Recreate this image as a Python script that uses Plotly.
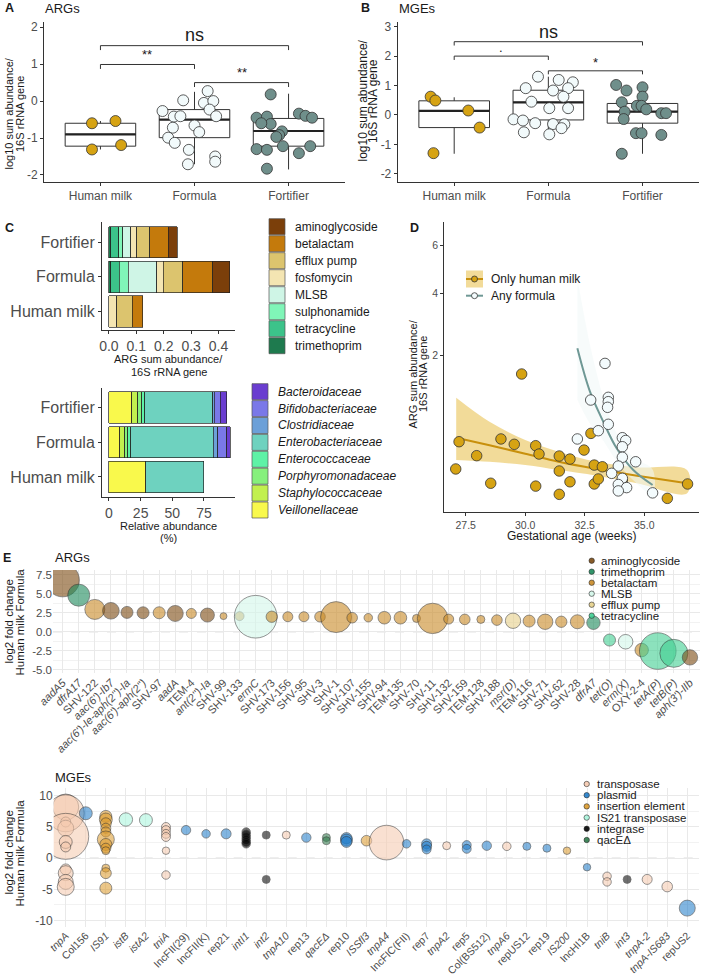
import numpy as np
import plotly.graph_objects as go

W, H = 701, 977
FONT = "Liberation Sans, Arial, Helvetica, sans-serif"
GREY = "#4d4d4d"
DARK = "#333333"
INK = "#1a1a1a"

# ======================= DATA =======================
groups = ["Human milk", "Formula", "Fortifier"]
group_pos = [1, 2, 3]

# ---- Panel A: ARGs, log10 sum abundance / 16S rRNA gene ----
a_hm = [-0.60, -0.54, -1.31, -1.19]
a_hm_jit = [-0.09, 0.16, -0.09, 0.22]
a_fo = [0.02, 0.27, -0.05, 0.00, -0.23, -0.41, -0.27, -0.42, -0.41, -0.72, -0.66, -0.84, -0.99, -1.13, -1.32, -1.50, -1.64, -1.71]
a_fo_jit = [-0.12, 0.14, 0.10, 0.20, 0.16, 0.23, -0.34, -0.22, -0.15, -0.23, 0.00, 0.05, -0.28, -0.21, -0.06, 0.22, 0.22, -0.07]
a_ft = [0.18, -0.34, -0.40, -0.45, -0.45, -0.42, -0.62, -0.60, -0.82, -0.92, -0.97, -1.30, -1.32, -1.22, -1.22, -1.41, -1.83]
a_ft_jit = [-0.19, 0.11, 0.18, 0.25, -0.34, -0.23, -0.19, -0.29, -0.07, -0.10, -0.13, -0.34, -0.23, -0.06, 0.23, 0.11, -0.23]
a_q1 = [-1.22, -0.99, -1.22]
a_med = [-0.90, -0.50, -0.81]
a_q3 = [-0.60, -0.23, -0.47]
a_lo = [-1.31, -1.71, -1.85]
a_hi = [-0.54, 0.25, 0.20]

# ---- Panel B: MGEs, log10 sum abundance / 16S rRNA gene ----
b_hm = [0.62, 0.49, 0.15, -0.43, -1.30]
b_hm_jit = [-0.25, -0.20, 0.15, 0.27, -0.22]
b_fo = [1.30, 1.19, 1.11, 0.91, 0.91, 0.83, 0.62, 0.45, 0.23, 0.23, -0.15, -0.19, -0.28, -0.31, -0.32, -0.45, -0.59, -0.66]
b_fo_jit = [-0.11, 0.11, 0.26, 0.21, -0.24, 0.05, 0.16, -0.18, 0.01, 0.21, -0.37, -0.27, -0.14, 0.05, 0.17, 0.14, -0.26, 0.01]
b_ft = [1.02, 0.83, 0.94, 0.62, 0.43, 0.31, 0.31, 0.19, 0.11, 0.06, 0.06, -0.14, -0.62, -0.62, -0.68, -1.32]
b_ft_jit = [-0.28, -0.17, 0.00, 0.00, -0.22, -0.06, -0.01, 0.04, -0.19, 0.20, 0.25, -0.20, -0.07, -0.01, 0.20, -0.22]
b_q1 = [-0.43, -0.17, -0.28]
b_med = [0.14, 0.43, 0.11]
b_q3 = [0.48, 0.84, 0.39]
b_lo = [-1.32, -0.62, -1.32]
b_hi = [0.60, 1.30, 1.02]

# ---- Panel C (top): ARG class sum abundance per group [Human milk, Formula, Fortifier] ----
arg_classes = ["aminoglycoside", "betalactam", "efflux pump", "fosfomycin",
               "MLSB", "sulphonamide", "tetracycline", "trimethoprim"]
c_aminoglycoside = [0.0, 0.063, 0.033]
c_betalactam = [0.038, 0.109, 0.067]
c_efflux = [0.057, 0.070, 0.049]
c_fosfomycin = [0.028, 0.024, 0.021]
c_mlsb = [0.0, 0.104, 0.029]
c_sulphonamide = [0.0, 0.033, 0.015]
c_tetracycline = [0.0, 0.031, 0.029]
c_trimethoprim = [0.0, 0.007, 0.007]

# ---- Panel C (bottom): family relative abundance (%) ----
families = ["Bacteroidaceae", "Bifidobacteriaceae", "Clostridiaceae", "Enterobacteriaceae",
            "Enterococcaceae", "Porphyromonadaceae", "Staphylococcaceae", "Veillonellaceae"]
f_bacteroidaceae = [0.0, 2.9, 5.0]
f_bifidobacteriaceae = [0.0, 7.1, 4.7]
f_clostridiaceae = [0.0, 3.4, 1.3]
f_enterobacteriaceae = [46.0, 65.0, 53.4]
f_enterococcaceae = [0.0, 2.6, 2.6]
f_porphyromonadaceae = [0.0, 2.1, 3.2]
f_staphylococcaceae = [0.0, 3.9, 4.7]
f_veillonellaceae = [29.0, 8.7, 17.9]

# ---- Panel D: ARG sum abundance vs gestational age ----
d_hm_ga = [27.22, 27.08, 27.96, 28.55, 28.98, 29.54, 29.85, 30.44, 30.58, 30.44, 31.43, 31.43, 31.43,
           31.88, 31.88, 32.47, 32.76, 32.90, 33.24, 32.90, 33.07, 34.08, 35.97, 36.82]
d_hm_arg = [0.368, 0.123, 0.226, 0.047, 0.400, 0.339, 1.543, 0.324, 0.241, 0.036, 0.223, 0.110, 0.0127,
            0.197, 0.053, 0.279, 0.469, 0.150, 0.138, 0.044, 0.066, 0.061, 0.0056, 0.044]
d_fo_ga = [33.35, 32.75, 33.49, 33.49, 33.46, 33.49, 33.07, 32.19, 34.08, 34.22, 34.08, 34.08, 34.64,
           33.91, 33.63, 34.08, 33.91, 34.26, 33.91, 35.35]
d_fo_arg = [1.80, 0.996, 1.047, 0.965, 0.864, 0.593, 0.504, 0.400, 0.415, 0.382, 0.313, 0.212, 0.175,
            0.143, 0.096, 0.069, 0.042, 0.031, 0.021, 0.016]
d_hm_fit_ga = [27.1, 28.5, 30.0, 31.4, 33.0, 34.7, 36.8]
d_hm_fit = [0.415, 0.328, 0.244, 0.175, 0.123, 0.083, 0.047]
d_hm_fit_hi = [1.04, 0.63, 0.388, 0.263, 0.175, 0.134, 0.116]
d_hm_fit_lo = [0.19, 0.175, 0.150, 0.116, 0.083, 0.047, 0.015]
d_fo_fit_ga = [32.19, 32.72, 33.28, 33.84, 34.54, 35.35]
d_fo_fit = [2.20, 1.158, 0.631, 0.297, 0.116, 0.040]
d_fo_fit_hi = [4.6, 2.3, 1.05, 0.47, 0.21, 0.12]
d_fo_fit_lo = [1.0, 0.60, 0.38, 0.18, 0.06, 0.012]

# ---- Panel E (ARGs): log2 fold change Human milk vs Formula ----
arg_genes = ["aadA5", "dfrA17", "SHV-122", "aac(6')-Ib7", "aac(6')-Ie-aph(2'')-Ia", "aac(6')-aph(2'')",
             "SHV-97", "aadA", "TEM-4", "ant(2'')-Ia", "SHV-99", "SHV-133", "ermC", "SHV-173", "SHV-156",
             "SHV-95", "SHV-3", "SHV-1", "SHV-107", "SHV-155", "SHV-94", "TEM-135", "SHV-70", "SHV-11",
             "SHV-132", "SHV-159", "TEM-128", "SHV-188", "msr(D)", "TEM-116", "SHV-71", "SHV-62", "SHV-28",
             "dfrA7", "tet(O)", "erm(X)", "OXY-2-4", "tetA(P)", "tetB(P)", "aph(3')-IIb"]
arg_class = ["aminoglycoside", "trimethoprim", "betalactam", "aminoglycoside", "aminoglycoside",
             "aminoglycoside", "betalactam", "aminoglycoside", "betalactam", "aminoglycoside",
             "betalactam", "betalactam", "MLSB", "betalactam", "betalactam", "betalactam", "betalactam",
             "betalactam", "betalactam", "betalactam", "betalactam", "betalactam", "betalactam",
             "betalactam", "betalactam", "betalactam", "betalactam", "betalactam", "efflux pump",
             "betalactam", "betalactam", "betalactam", "betalactam", "trimethoprim", "tetracycline",
             "MLSB", "betalactam", "tetracycline", "tetracycline", "aminoglycoside"]
arg_lfc = [6.77, 4.80, 2.93, 2.75, 2.54, 2.49, 2.49, 2.40, 2.40, 2.19, 2.05, 2.05, 1.97, 1.97, 1.97,
           1.97, 1.97, 1.92, 1.84, 1.84, 1.84, 1.84, 1.75, 1.75, 1.66, 1.62, 1.62, 1.53, 1.44, 1.40,
           1.31, 1.31, 1.31, 1.18, -1.09, -1.31, -2.40, -2.53, -2.83, -3.36]
arg_abund = [279, 121, 100, 69, 36, 36, 36, 64, 25, 49, 12, 20, 454, 32, 25, 25, 28, 240, 28, 18,
             40, 40, 16, 231, 25, 28, 16, 28, 59, 36, 59, 32, 49, 45, 36, 53, 45, 335, 196, 59]
arg_italic = {"aadA5", "dfrA17", "aac(6')-Ib7", "aac(6')-Ie-aph(2'')-Ia", "aac(6')-aph(2'')", "aadA",
              "ant(2'')-Ia", "ermC", "msr(D)", "dfrA7", "tet(O)", "erm(X)", "tetA(P)", "tetB(P)",
              "aph(3')-IIb"}

# ---- Panel E (MGEs) ----
mge_genes = ["tnpA", "Col156", "IS91", "istB", "istA2", "tniA", "IncFII(29)", "IncFII(K)", "rep21",
             "intI1", "int2", "tnpA10", "rep13", "qacEΔ", "rep10", "ISSfl3", "tnpA4", "IncFIC(FII)",
             "rep7", "tnpA2", "rep5", "Col(BS512)", "tnpA6", "repUS12", "rep19", "IS200", "IncHI1B",
             "tniB", "int3", "tnpA-2", "tnpA-IS683", "repUS2"]
mge_italic = {"tnpA", "IS91", "istB", "istA2", "tniA", "intI1", "int2", "tnpA10", "qacEΔ", "ISSfl3",
              "tnpA4", "tnpA2", "tnpA6", "IS200", "tniB", "int3", "tnpA-2", "tnpA-IS683"}
mge_pt_gene = (["tnpA"] * 11 + ["Col156"] + ["IS91"] * 12 + ["istB", "istA2"] + ["tniA"] * 6 +
               ["IncFII(29)", "IncFII(K)", "rep21"] + ["intI1"] * 6 + ["int2"] * 2 + ["tnpA10", "rep13"] +
               ["qacEΔ"] * 2 + ["rep10"] * 3 + ["ISSfl3", "tnpA4", "IncFIC(FII)"] + ["rep7"] * 3 +
               ["tnpA2"] + ["rep5"] * 2 + ["Col(BS512)", "tnpA6", "repUS12", "rep19", "IS200", "IncHI1B"] +
               ["tniB"] * 2 + ["int3", "tnpA-2", "tnpA-IS683", "repUS2"])
mge_pt_type = (["transposase"] * 11 + ["plasmid"] + ["insertion element"] * 12 +
               ["IS21 transposase"] * 2 + ["transposase"] * 6 + ["plasmid"] * 3 + ["integrase"] * 8 +
               ["transposase", "plasmid"] + ["qacEΔ"] * 2 + ["plasmid"] * 3 +
               ["insertion element", "transposase", "plasmid"] + ["plasmid"] * 3 + ["transposase"] +
               ["plasmid"] * 3 + ["transposase", "plasmid", "plasmid", "insertion element", "plasmid"] +
               ["transposase"] * 2 + ["integrase", "transposase", "transposase", "plasmid"])
mge_pt_lfc = ([8.2, 7.2, 5.8, 4.8, 3.5, 2.6, 1.8, -1.8, -2.4, -3.8, -4.6] + [7.2] +
              [6.7, 6.2, 5.6, 4.8, 4.2, 3.0, 2.2, 1.6, 1.2, -1.6, -2.4, -4.8] + [6.2, 6.1] +
              [5.0, 4.5, 3.9, 3.4, 1.2, -2.7] + [4.5, 3.9, 3.9] + [4.2, 3.8, 3.4, 3.0, 2.6, 2.3] +
              [3.7, -3.4] + [3.7, 3.3] + [3.3, 2.8] + [3.2, 2.9, 2.6] + [2.8, 2.5, 2.3] +
              [2.3, 1.9, 1.4] + [2.0] + [2.1, 1.5] + [2.0, 1.9, 1.9, 1.6, 1.2, -1.45] +
              [-2.9, -3.8] + [-3.4, -3.4, -4.55, -8.0])
mge_pt_abund = ([169, 342, 25, 64, 529, 42, 25, 30, 56, 56, 72] + [42] +
                [36, 42, 30, 25, 25, 72, 36, 25, 16, 16, 30, 36] + [45, 42] +
                [20, 20, 20, 20, 14, 18] + [22, 18, 25] + [18, 18, 18, 18, 18, 18] +
                [16, 16] + [16, 22] + [16, 16] + [32, 36, 30] + [28, 300, 18] +
                [25, 25, 20] + [16] + [20, 20] + [22, 18, 16, 16, 14, 14] +
                [18, 18] + [16, 25, 28, 64])
mge_types = ["transposase", "plasmid", "insertion element", "IS21 transposase", "integrase", "qacEΔ"]

# ======================= STYLE =======================
group_colors = ["#d6a313", "#f2fafb", "#6f8f8b"]
c_arg_colors = {"aminoglycoside": "#7b3f0a", "betalactam": "#c47a0c", "efflux pump": "#dcc46e",
                "fosfomycin": "#f4e5b2", "MLSB": "#cff5e6", "sulphonamide": "#80f5b8",
                "tetracycline": "#3cc38a", "trimethoprim": "#1e7a4e"}
fam_colors = {"Bacteroidaceae": "#6a3dd0", "Bifidobacteriaceae": "#7a78e8", "Clostridiaceae": "#6ca0d8",
              "Enterobacteriaceae": "#6ed2bf", "Enterococcaceae": "#5ef2a6", "Porphyromonadaceae": "#86f07c",
              "Staphylococcaceae": "#c2f04e", "Veillonellaceae": "#f9f94c"}
e_arg_colors = {"aminoglycoside": (123, 74, 18), "trimethoprim": (27, 138, 90), "betalactam": (201, 138, 38),
                "MLSB": (211, 247, 234), "efflux pump": (230, 208, 138), "tetracycline": (63, 207, 146)}
e_arg_legend = ["aminoglycoside", "trimethoprim", "betalactam", "MLSB", "efflux pump", "tetracycline"]
mge_colors = {"transposase": (245, 201, 174), "plasmid": (31, 124, 201), "insertion element": (220, 154, 44),
              "IS21 transposase": (168, 245, 220), "integrase": (0, 0, 0), "qacEΔ": (46, 122, 74)}


def fx(x):
    return x / W


def fy(y):
    return 1 - y / H


def rgba(c, a):
    return "rgba(%d,%d,%d,%.2f)" % (c[0], c[1], c[2], a)


fig = go.Figure()
annotations = []
shapes = []


def txt(x, y, s, size, color=INK, xanchor="left", angle=0, yanchor="middle"):
    annotations.append(dict(x=fx(x), y=fy(y), xref="paper", yref="paper", text=s, showarrow=False,
                            xanchor=xanchor, yanchor=yanchor, textangle=angle,
                            font=dict(size=size, color=color, family=FONT)))


def dtxt(xa, ya, x, y, s, size):
    annotations.append(dict(x=x, y=y, xref=xa, yref=ya, text=s, showarrow=False, xanchor="center",
                            yanchor="middle", font=dict(size=size, color=INK, family=FONT)))


def bracket(xa, ya, x0, x1, y, drop):
    shapes.append(dict(type="path", path="M%g,%g L%g,%g L%g,%g L%g,%g" % (x0, y - drop, x0, y, x1, y, x1, y - drop),
                       xref=xa, yref=ya, line=dict(color=DARK, width=1)))


# ---------- A & B: boxplots ----------
def box_panel(xa, ya, q1, med, q3, lo, hi, pts, jits):
    fig.add_trace(go.Box(x=group_pos, q1=q1, median=med, q3=q3, lowerfence=lo, upperfence=hi,
                         orientation="v", width=0.75, fillcolor="white", line=dict(color=DARK, width=1),
                         boxpoints=False, whiskerwidth=0, hoverinfo="skip", showlegend=False,
                         xaxis=xa, yaxis=ya))
    for g, m in zip(group_pos, med):
        fig.add_trace(go.Scatter(x=[g - 0.375, g + 0.375], y=[m, m], mode="lines",
                                 line=dict(color="#222222", width=2.2), hoverinfo="skip",
                                 showlegend=False, xaxis=xa, yaxis=ya))
    for g, vals, jit, col in zip(group_pos, pts, jits, group_colors):
        fig.add_trace(go.Scatter(x=[g + j for j in jit], y=vals, mode="markers",
                                 marker=dict(size=11, color=col, line=dict(color=DARK, width=0.8)),
                                 hoverinfo="skip", showlegend=False, xaxis=xa, yaxis=ya))


box_panel("x", "y", a_q1, a_med, a_q3, a_lo, a_hi, [a_hm, a_fo, a_ft], [a_hm_jit, a_fo_jit, a_ft_jit])
box_panel("x2", "y2", b_q1, b_med, b_q3, b_lo, b_hi, [b_hm, b_fo, b_ft], [b_hm_jit, b_fo_jit, b_ft_jit])

bracket("x", "y", 1, 3, 1.50, 0.12)
bracket("x", "y", 1, 2, 0.99, 0.12)
bracket("x", "y", 2, 3, 0.50, 0.12)
dtxt("x", "y", 2, 1.78, "ns", 18)
dtxt("x", "y", 1.5, 1.25, "**", 13)
dtxt("x", "y", 2.5, 0.76, "**", 13)

bracket("x2", "y2", 1, 3, 2.49, 0.13)
bracket("x2", "y2", 1, 2, 2.00, 0.13)
bracket("x2", "y2", 2, 3, 1.50, 0.12)
dtxt("x2", "y2", 2, 2.83, "ns", 18)
dtxt("x2", "y2", 1.5, 2.30, ".", 13)
dtxt("x2", "y2", 2.5, 1.77, "*", 13)

# ---------- C: stacked bars ----------
c_arg = {"aminoglycoside": c_aminoglycoside, "betalactam": c_betalactam, "efflux pump": c_efflux,
         "fosfomycin": c_fosfomycin, "MLSB": c_mlsb, "sulphonamide": c_sulphonamide,
         "tetracycline": c_tetracycline, "trimethoprim": c_trimethoprim}
for cls in reversed(arg_classes):
    vals = [v if v > 0 else None for v in c_arg[cls]]
    fig.add_trace(go.Bar(y=[0, 1, 2], x=vals, orientation="h", width=0.9,
                         marker=dict(color=c_arg_colors[cls], line=dict(color="#222222", width=0.7)),
                         hoverinfo="skip", showlegend=False, xaxis="x3", yaxis="y3"))

c_fam = {"Bacteroidaceae": f_bacteroidaceae, "Bifidobacteriaceae": f_bifidobacteriaceae,
         "Clostridiaceae": f_clostridiaceae, "Enterobacteriaceae": f_enterobacteriaceae,
         "Enterococcaceae": f_enterococcaceae, "Porphyromonadaceae": f_porphyromonadaceae,
         "Staphylococcaceae": f_staphylococcaceae, "Veillonellaceae": f_veillonellaceae}
for fam in reversed(families):
    vals = [v if v > 0 else None for v in c_fam[fam]]
    fig.add_trace(go.Bar(y=[0, 1, 2], x=vals, orientation="h", width=0.9,
                         marker=dict(color=fam_colors[fam], line=dict(color="#222222", width=0.7)),
                         hoverinfo="skip", showlegend=False, xaxis="x4", yaxis="y4"))

# ---------- D: scatter with fits (sqrt y scale) ----------
sq = lambda v: list(np.sqrt(np.asarray(v, dtype=float)))
fig.add_trace(go.Scatter(x=d_hm_fit_ga + d_hm_fit_ga[::-1], y=sq(d_hm_fit_hi) + sq(d_hm_fit_lo)[::-1],
                         fill="toself", fillcolor="rgba(232,190,70,0.55)", line=dict(width=0, shape="spline"),
                         mode="lines", hoverinfo="skip", showlegend=False, xaxis="x5", yaxis="y5"))
fig.add_trace(go.Scatter(x=d_fo_fit_ga + d_fo_fit_ga[::-1], y=sq(d_fo_fit_hi) + sq(d_fo_fit_lo)[::-1],
                         fill="toself", fillcolor="rgba(240,248,248,0.55)", line=dict(width=0, shape="spline"),
                         mode="lines", hoverinfo="skip", showlegend=False, xaxis="x5", yaxis="y5"))
fig.add_trace(go.Scatter(x=d_hm_fit_ga, y=sq(d_hm_fit), mode="lines",
                         line=dict(color="#c8900c", width=2, shape="spline"),
                         hoverinfo="skip", showlegend=False, xaxis="x5", yaxis="y5"))
fig.add_trace(go.Scatter(x=d_fo_fit_ga, y=sq(d_fo_fit), mode="lines",
                         line=dict(color="#6f9895", width=2, shape="spline"),
                         hoverinfo="skip", showlegend=False, xaxis="x5", yaxis="y5"))
fig.add_trace(go.Scatter(x=d_hm_ga, y=sq(d_hm_arg), mode="markers",
                         marker=dict(size=10.5, color=group_colors[0], line=dict(color=DARK, width=0.8)),
                         hoverinfo="skip", showlegend=False, xaxis="x5", yaxis="y5"))
fig.add_trace(go.Scatter(x=d_fo_ga, y=sq(d_fo_arg), mode="markers",
                         marker=dict(size=10.5, color="#f3fbfd", line=dict(color=DARK, width=0.8)),
                         hoverinfo="skip", showlegend=False, xaxis="x5", yaxis="y5"))

# ---------- E: bubble plots ----------
fig.add_trace(go.Scatter(x=list(range(len(arg_genes))), y=arg_lfc, mode="markers",
                         marker=dict(size=arg_abund, sizemode="area", sizeref=0.5,
                                     color=[rgba(e_arg_colors[c], 0.85) for c in arg_class],
                                     line=dict(color="#2a2a2a", width=0.7)),
                         hoverinfo="skip", showlegend=False, xaxis="x6", yaxis="y6"))
fig.add_trace(go.Scatter(x=[mge_genes.index(g) for g in mge_pt_gene], y=mge_pt_lfc, mode="markers",
                         marker=dict(size=mge_pt_abund, sizemode="area", sizeref=0.5,
                                     color=[rgba(mge_colors[t], 0.8) for t in mge_pt_type],
                                     line=dict(color="#2a2a2a", width=0.7)),
                         hoverinfo="skip", showlegend=False, xaxis="x7", yaxis="y7"))

shapes.append(dict(type="line", xref="x6", yref="y6", x0=-0.6, x1=39.6, y0=0, y1=0, layer="below",
                   line=dict(color="#c8c8c8", width=1, dash="dash")))
shapes.append(dict(type="line", xref="x7", yref="y7", x0=-0.6, x1=31.6, y0=0, y1=0, layer="below",
                   line=dict(color="#c8c8c8", width=1, dash="dash")))

# ======================= LEGENDS (manual) =======================
for i, cls in enumerate(arg_classes):
    yc = 226.7 + i * 17
    shapes.append(dict(type="rect", xref="paper", yref="paper", x0=fx(269), x1=fx(285),
                       y0=fy(yc + 8), y1=fy(yc - 8), fillcolor=c_arg_colors[cls],
                       line=dict(color="#555555", width=0.7)))
    txt(292.5, yc, cls, 12)
for i, fam in enumerate(families):
    yc = 391.7 + i * 16.9
    shapes.append(dict(type="rect", xref="paper", yref="paper", x0=fx(252), x1=fx(268),
                       y0=fy(yc + 8), y1=fy(yc - 8), fillcolor=fam_colors[fam],
                       line=dict(color="#555555", width=0.7)))
    txt(275.5, yc, "<i>%s</i>" % fam, 12)

# D legend
shapes.append(dict(type="rect", xref="paper", yref="paper", x0=fx(466), x1=fx(483), y0=fy(287.5),
                   y1=fy(270.5), fillcolor="rgba(232,190,70,0.55)", line=dict(width=0)))
shapes.append(dict(type="line", xref="paper", yref="paper", x0=fx(466), x1=fx(483), y0=fy(279), y1=fy(279),
                   line=dict(color="#c8900c", width=2)))
shapes.append(dict(type="line", xref="paper", yref="paper", x0=fx(466), x1=fx(483), y0=fy(295.7),
                   y1=fy(295.7), line=dict(color="#6f9895", width=2)))
for yc, col in [(279, group_colors[0]), (295.7, "#f3fbfd")]:
    shapes.append(dict(type="circle", xref="paper", yref="paper", x0=fx(471.5), x1=fx(477.5),
                       y0=fy(yc + 3), y1=fy(yc - 3), fillcolor=col, line=dict(color=DARK, width=0.8)))
txt(488.5, 279, "Only human milk", 12)
txt(488.5, 295.7, "Any formula", 12)

# E legends
for i, cls in enumerate(e_arg_legend):
    yc = 560.7 + i * 11
    shapes.append(dict(type="circle", xref="paper", yref="paper", x0=fx(589), x1=fx(594.4),
                       y0=fy(yc + 2.7), y1=fy(yc - 2.7), fillcolor=rgba(e_arg_colors[cls], 0.9),
                       line=dict(color="#2a2a2a", width=0.6)))
    txt(598.5, yc, cls, 11.5)
for i, t in enumerate(mge_types):
    yc = 784 + i * 11.2
    shapes.append(dict(type="circle", xref="paper", yref="paper", x0=fx(584), x1=fx(589.4),
                       y0=fy(yc + 2.7), y1=fy(yc - 2.7), fillcolor=rgba(mge_colors[t], 0.9),
                       line=dict(color="#2a2a2a", width=0.6)))
    txt(594.5, yc, t, 11.5)

# ======================= TEXT =======================
for lab, x, y in [("A", 2.5, 8), ("B", 359, 8), ("C", 2.5, 228), ("D", 408, 228), ("E", 1, 557.5)]:
    txt(x, y, "<b>%s</b>" % lab, 12.5)
txt(43, 8, "ARGs", 13)
txt(397, 8, "MGEs", 13)
txt(53, 557.5, "ARGs", 13)
txt(53, 777.5, "MGEs", 13)

# axis titles
txt(8.5, 114, "log10 sum abundance/", 11, xanchor="center", angle=-90)
txt(20, 114, "16S rRNA gene", 11, xanchor="center", angle=-90)
txt(362.5, 101, "log10 sum abundance/", 12, xanchor="center", angle=-90)
txt(373, 101, "16S rRNA gene", 12, xanchor="center", angle=-90)
txt(168.5, 359.5, "ARG sum abundance/", 11, xanchor="center")
txt(168.5, 372, "16S rRNA gene", 11, xanchor="center")
txt(168.5, 525.5, "Relative abundance", 11, xanchor="center")
txt(168.5, 538, "(%)", 11, xanchor="center")
txt(412.5, 374, "ARG sum abundance/", 11, xanchor="center", angle=-90)
txt(423, 374, "16S rRNA gene", 11, xanchor="center", angle=-90)
txt(571.5, 536, "Gestational age (weeks)", 12, xanchor="center")
txt(8.5, 622, "log2 fold change", 11.5, xanchor="center", angle=-90)
txt(19.5, 622, "Human milk Formula", 11.5, xanchor="center", angle=-90)
txt(8.5, 853, "log2 fold change", 11.5, xanchor="center", angle=-90)
txt(19.5, 853, "Human milk Formula", 11.5, xanchor="center", angle=-90)

# ======================= AXES =======================
def classic(**kw):
    d = dict(showline=True, linecolor=DARK, linewidth=1, ticks="outside", ticklen=3, tickcolor=DARK,
             tickwidth=1, showgrid=False, zeroline=False, automargin=False, fixedrange=True,
             tickfont=dict(size=12, color=GREY, family=FONT))
    d.update(kw)
    return d


def minimal(**kw):
    d = dict(showline=False, ticks="", showgrid=True, gridcolor="#e9e9e9", gridwidth=1, zeroline=False,
             automargin=False, fixedrange=True, tickfont=dict(size=11, color=GREY, family=FONT))
    d.update(kw)
    return d


def ital(names, italic):
    return ["<i>%s</i>" % n if n in italic else n for n in names]


layout = dict(
    width=W, height=H, margin=dict(l=0, r=0, t=0, b=0), template="none",
    paper_bgcolor="white", plot_bgcolor="white", showlegend=False, barmode="stack",
    font=dict(family=FONT, color=INK),
    xaxis=classic(domain=[fx(44), fx(345)], range=[0.4, 3.6], tickvals=group_pos, ticktext=groups, anchor="y"),
    yaxis=classic(domain=[fy(182), fy(22)], range=[-2.19, 2.14], tickvals=[-2, -1, 0, 1, 2],
                  ticktext=["-2", "-1", "0", "1", "2"], anchor="x"),
    xaxis2=classic(domain=[fx(397.7), fx(699)], range=[0.4, 3.6], tickvals=group_pos, ticktext=groups,
                   anchor="y2"),
    yaxis2=classic(domain=[fy(181.7), fy(21.7)], range=[-2.27, 3.17], tickvals=[-2, -1, 0, 1, 2, 3],
                   ticktext=["-2", "-1", "0", "1", "2", "3"], anchor="x2"),
    xaxis3=classic(domain=[fx(102), fx(235)], range=[-0.025, 0.46], tickvals=[0, 0.1, 0.2, 0.3, 0.4],
                   ticktext=["0.0", "0.1", "0.2", "0.3", "0.4"], anchor="y3",
                   tickfont=dict(size=14, color=GREY, family=FONT)),
    yaxis3=classic(domain=[fy(330), fy(222)], range=[-0.53, 2.58], tickvals=[0, 1, 2], ticktext=groups,
                   anchor="x3", tickfont=dict(size=16, color=GREY, family=FONT)),
    xaxis4=classic(domain=[fx(102), fx(235)], range=[-5.5, 99.5], tickvals=[0, 25, 50, 75], anchor="y4",
                   tickfont=dict(size=14, color=GREY, family=FONT)),
    yaxis4=classic(domain=[fy(496.7), fy(388)], range=[-0.57, 2.56], tickvals=[0, 1, 2], ticktext=groups,
                   anchor="x4", tickfont=dict(size=16, color=GREY, family=FONT)),
    xaxis5=classic(domain=[fx(444.3), fx(699)], range=[26.6, 37.3], tickvals=[27.5, 30, 32.5, 35],
                   ticktext=["27.5", "30.0", "32.5", "35.0"], anchor="y5",
                   tickfont=dict(size=10.5, color=GREY, family=FONT)),
    yaxis5=classic(domain=[fy(512.3), fy(221.7)], range=[-0.056, 2.672], tickvals=sq([2, 4, 6]),
                   ticktext=["2", "4", "6"], anchor="x5", tickfont=dict(size=10.5, color=GREY, family=FONT)),
    xaxis6=minimal(domain=[fx(53), fx(699.6)], range=[-0.6, 39.6], tickvals=list(range(len(arg_genes))),
                   ticktext=ital(arg_genes, arg_italic), tickangle=-45, anchor="y6"),
    yaxis6=minimal(domain=[fy(673.3), fy(570)], range=[-5.45, 8.1], tickvals=[-5, -2.5, 0, 2.5, 5, 7.5],
                   ticktext=["-5.0", "-2.5", "0.0", "2.5", "5.0", "7.5"], anchor="x6",
                   tickfont=dict(size=11.5, color=GREY, family=FONT),
                   minor=dict(tickvals=[-3.75, -1.25, 1.25, 3.75, 6.25], showgrid=True, gridcolor="#f2f2f2",
                              gridwidth=0.7)),
    xaxis7=minimal(domain=[fx(53.7), fx(699.3)], range=[-0.6, 31.6], tickvals=list(range(len(mge_genes))),
                   ticktext=ital(mge_genes, mge_italic), tickangle=-45, anchor="y7",
                   tickfont=dict(size=10.5, color=GREY, family=FONT)),
    yaxis7=minimal(domain=[fy(926.7), fy(788.3)], range=[-10.98, 11.2], tickvals=[-10, -5, 0, 5, 10],
                   ticktext=["-10", "-5", "0", "5", "10"], anchor="x7",
                   tickfont=dict(size=12, color=GREY, family=FONT),
                   minor=dict(tickvals=[-7.5, -2.5, 2.5, 7.5], showgrid=True, gridcolor="#f2f2f2",
                              gridwidth=0.7)),
    annotations=annotations,
    shapes=shapes,
)
fig.update_layout(**layout)
fig.write_html("out.html", config={"displayModeBar": False},
               post_script="document.body.style.margin='0px';document.body.style.overflow='hidden';")
